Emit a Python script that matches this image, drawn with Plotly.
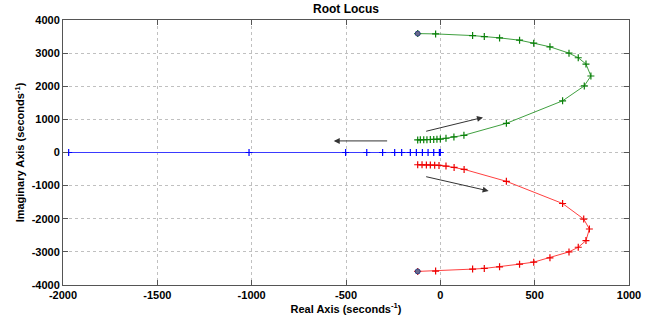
import plotly.graph_objects as go

# Blue branch (real axis)
blue_re = [0, -5, -35, -65, -95, -127, -159, -205, -242, -306, -390, -502, -1014, -1970]
blue_im = [0] * len(blue_re)

# Green branch (upper)
green_re = [-120, -106, -88, -71, -53, -35, -18, 0, 30, 72, 125, 350, 648, 763, 798, 772,
            731, 682, 581, 495, 420, 314, 233, 171, -25, -120]
green_im = [380, 382, 385, 388, 392, 396, 400, 405, 430, 470, 520, 880, 1560, 2010, 2310, 2670,
            2860, 3000, 3190, 3300, 3390, 3460, 3500, 3530, 3580, 3590]

# Red branch (lower)
red_re = [-120, -97, -74, -53, -30, -7, 30, 73, 126, 350, 648, 760, 790, 772,
          731, 682, 581, 495, 420, 314, 233, 171, -25, -120]
red_im = [-370, -372, -375, -378, -382, -390, -410, -450, -510, -870, -1540, -2010, -2310, -2660,
          -2860, -3000, -3180, -3310, -3370, -3450, -3500, -3520, -3580, -3590]

# End markers (zeros)
end_re = [-120, -120]
end_im = [3590, -3590]

x_ticks = [-2000, -1500, -1000, -500, 0, 500, 1000]
y_ticks = [-4000, -3000, -2000, -1000, 0, 1000, 2000, 3000, 4000]

fig = go.Figure()

def branch(xs, ys, color, lcolor):
    fig.add_trace(go.Scatter(
        x=xs, y=ys, mode="lines+markers",
        line=dict(color=lcolor, width=1),
        marker=dict(symbol="cross-thin", size=5, line=dict(color=color, width=1.2), color=color),
        showlegend=False, hoverinfo="skip"))

branch(blue_re, blue_im, "#0000ff", "#3a3aff")
branch(green_re, green_im, "#0a800a", "#40a040")
branch(red_re, red_im, "#ee0000", "#ff4040")

fig.add_trace(go.Scatter(
    x=end_re, y=end_im, mode="markers",
    marker=dict(symbol="circle", size=5, color="#6a6a8a", line=dict(color="#304080", width=1)),
    showlegend=False, hoverinfo="skip"))

arrows = [
    ((-274, 350), (-565, 350)),
    ((-83, 630), (226, 1060)),
    ((-83, -720), (256, -1160)),
]
for (x0, y0), (x1, y1) in arrows:
    fig.add_annotation(x=x1, y=y1, ax=x0, ay=y0, xref="x", yref="y", axref="x", ayref="y",
                       showarrow=True, arrowhead=2, arrowsize=1.2, arrowwidth=1,
                       arrowcolor="#333333", text="")

font_main = "Liberation Sans, Arial, sans-serif"

fig.update_layout(
    width=658, height=322,
    margin=dict(l=63, r=29, t=20, b=37),
    paper_bgcolor="white", plot_bgcolor="white",
    title=dict(text="<b>Root Locus</b>", x=0.5, xanchor="center", y=0.985, yanchor="top",
               font=dict(family=font_main, size=12, color="black"), xref="paper"),
    font=dict(family=font_main, color="black"),
)

axis_common = dict(
    showline=True, linecolor="#555555", linewidth=1, mirror="ticks",
    ticks="inside", ticklen=5, tickcolor="#555555",
    showgrid=True, gridcolor="#c0c0c0", griddash="dot", gridwidth=1,
    zeroline=False,
    tickfont=dict(family=font_main, size=11, color="black", weight="bold"),
)

fig.update_xaxes(range=[-2000, 1000], tickvals=x_ticks, ticktext=[str(v) for v in x_ticks],
                 title=dict(text="<b>Real Axis (seconds<sup>-1</sup>)</b>", standoff=2,
                            font=dict(family=font_main, size=11)),
                 **axis_common)
fig.update_yaxes(range=[-4000, 4000], tickvals=y_ticks, ticktext=[str(v) for v in y_ticks],
                 title=dict(text="<b>Imaginary Axis (seconds<sup>-1</sup>)</b>", standoff=4,
                            font=dict(family=font_main, size=11)),
                 **axis_common)

fig.write_html("out.html")
